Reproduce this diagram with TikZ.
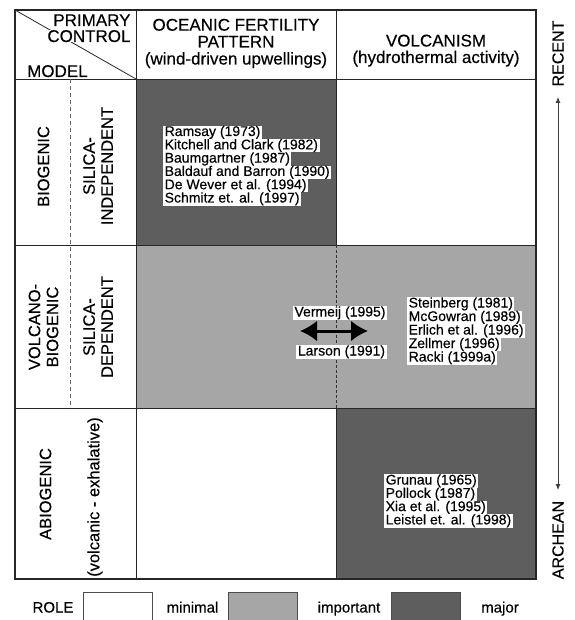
\documentclass[tikz,border=0pt]{standalone}
\usepackage{fontspec}
\setmainfont{Liberation Sans}[FakeBold=0.35]
\usetikzlibrary{arrows.meta}
\definecolor{darkfill}{RGB}{94,94,94}
\definecolor{lightfill}{RGB}{166,166,166}
\begin{document}
\begin{tikzpicture}[x=1pt,y=-1pt,
  hdr/.style={font=\fontsize{17}{18}\selectfont, inner sep=0pt, anchor=base},
  rowlab/.style={font=\fontsize{16.5}{18}\selectfont, rotate=90, align=center, inner sep=0pt},
  reftext/.style={font=\fontsize{14}{13.3}\selectfont, fill=white, anchor=base west, inner xsep=1.5pt, inner ysep=0pt, text height=10.3pt, text depth=3.2pt},
  arrlab/.style={reftext, anchor=base},
  outer/.style={line width=1.6pt, draw=black!85},
  inner/.style={line width=0.8pt, draw=black!85},
  dashsep/.style={line width=0.6pt, draw=black!60, dash pattern=on 4pt off 3pt},
  legbox/.style={draw=black!70, line width=0.7pt, minimum width=69pt, minimum height=30pt, anchor=north west, inner sep=0pt},
  legtext/.style={font=\fontsize{15}{16}\selectfont, anchor=base, inner sep=0pt},
  sidetext/.style={font=\fontsize{16}{17}\selectfont, rotate=90, inner sep=1pt}
]
\useasboundingbox (0,0) rectangle (574,620);
\clip (0,0) rectangle (574,620);

% fills
\fill[darkfill] (136,79) rectangle (336,245);
\fill[lightfill] (136,245) rectangle (536,408);
\fill[darkfill] (336,408) rectangle (536,579);

% grid
\draw[inner] (15,79) -- (536,79);
\draw[inner] (15,245) -- (536,245);
\draw[inner] (15,408) -- (536,408);
\draw[inner] (136,10) -- (136,579);
\draw[inner] (336,10) -- (336,245);
\draw[inner] (336,408) -- (336,579);
\draw[line width=0.6pt, black!80, dash pattern=on 3pt off 2pt] (336,245) -- (336,408);
\draw[dashsep] (70,79) -- (70,408);
\draw[inner] (15,10) -- (136,79);
\draw[outer] (15,10) rectangle (536,579);

% header
\node[hdr, anchor=base east, fill=white, inner sep=0.3pt] (prim) at (131,26) {PRIMARY};
\node[hdr, anchor=base east, fill=white, inner sep=0.3pt] (ctrl) at (131,42) {CONTROL};
\node[hdr, anchor=base west] (model) at (27,77) {MODEL};
\node[hdr] (ocean1) at (236,30.7) {OCEANIC FERTILITY};
\node[hdr] (ocean2) at (236,47.5) {PATTERN};
\node[hdr] (ocean3) at (236,64.5) {(wind-driven upwellings)};
\node[hdr] (volc1) at (436,46.5) {VOLCANISM};
\node[hdr] (volc2) at (436,63) {(hydrothermal activity)};

% row labels
\node[rowlab] (bio) at (43.5,166.5) {BIOGENIC};
\node[rowlab] (silind) at (98,166) {SILICA-\\INDEPENDENT};
\node[rowlab] (volcbio) at (43.5,327) {VOLCANO-\\BIOGENIC};
\node[rowlab] (sildep) at (98,327) {SILICA-\\DEPENDENT};
\node[rowlab] (abio) at (45.5,494) {ABIOGENIC};
\node[rowlab] (volcex) at (95,497) {(volcanic - exhalative)};

% reference lists
\node[reftext] (r1) at (163,136) {Ramsay (1973)};
\node[reftext] (r2) at (163,149.3) {Kitchell and Clark (1982)};
\node[reftext] (r3) at (163,162.6) {Baumgartner (1987)};
\node[reftext] (r4) at (163,175.9) {Baldauf and Barron (1990)};
\node[reftext] (r5) at (163,189.2) {De Wever et al. (1994)};
\node[reftext] (r6) at (163,202.5) {Schmitz et. al. (1997)};

\node[reftext] (s1) at (407,307.5) {Steinberg (1981)};
\node[reftext] (s2) at (407,321) {McGowran (1989)};
\node[reftext] (s3) at (407,334.5) {Erlich et al. (1996)};
\node[reftext] (s4) at (407,348) {Zellmer (1996)};
\node[reftext] (s5) at (407,361.5) {Racki (1999a)};

\node[reftext] (g1) at (384,484.5) {Grunau (1965)};
\node[reftext] (g2) at (384,497.8) {Pollock (1987)};
\node[reftext] (g3) at (384,511.1) {Xia et al. (1995)};
\node[reftext] (g4) at (384,524.4) {Leistel et. al. (1998)};

% Vermeij / Larson arrow
\node[arrlab] (verm) at (340,316.5) {Vermeij (1995)};
\node[arrlab] (lars) at (341.5,355.5) {Larson (1991)};
\coordinate (al) at (300,331);
\coordinate (ar) at (368,331);
\draw[line width=3pt, {Latex[length=17pt,width=21pt]}-{Latex[length=17pt,width=21pt]}] (al) -- (ar);

% time axis
\node[sidetext] (recent) at (558,53.5) {RECENT};
\node[sidetext] (archean) at (558,540) {ARCHEAN};
\coordinate (tTop) at (558,97);
\coordinate (tBot) at (558,490);
\draw[line width=0.8pt, black!75, {Latex[length=6pt,width=5pt]}-{Latex[length=6pt,width=5pt]}] (tTop) -- (tBot);

% legend
\node[legtext] (role) at (53,612.5) {ROLE};
\node[legbox, fill=white] (lw) at (83,592) {};
\node[legtext] (lmin) at (192.5,612.5) {minimal};
\node[legbox, fill=lightfill] (ll) at (228,592) {};
\node[legtext] (limp) at (349,612.5) {important};
\node[legbox, fill=darkfill] (ld) at (391,592) {};
\node[legtext] (lmaj) at (500,612.5) {major};
\end{tikzpicture}
\end{document}
